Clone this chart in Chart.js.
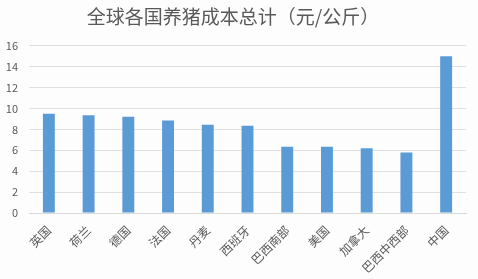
<!DOCTYPE html>
<html>
<head>
<meta charset="utf-8">
<script src="https://cdn.jsdelivr.net/npm/chart.js@4/dist/chart.umd.min.js"></script>
<style>
html,body{margin:0;padding:0;background:#fdfdfd;}
#wrap{width:478px;height:279px;position:relative;}
</style>
</head>
<body>
<div id="wrap"><canvas id="c" width="478" height="279"></canvas></div>
<script>
const categories = ["英国","荷兰","德国","法国","丹麦","西班牙","巴西南部","美国","加拿大","巴西中西部","中国"];
const costValues = [9.5, 9.35, 9.2, 8.85, 8.45, 8.35, 6.35, 6.35, 6.2, 5.8, 15.0];
const yTicks = [0, 2, 4, 6, 8, 10, 12, 14, 16];
const titleText = "全球各国养猪成本总计（元/公斤）";

const FONT = "'Microsoft YaHei','Noto Sans CJK SC','DejaVu Sans',sans-serif";
new Chart(document.getElementById('c'), {
  type: 'bar',
  data: {
    labels: categories,
    datasets: [{
      data: costValues,
      backgroundColor: '#5b9bd5',
      borderWidth: 0,
      barPercentage: 0.6,
      categoryPercentage: 0.5
    }]
  },
  options: {
    responsive: false,
    animation: false,
    devicePixelRatio: 1,
    layout: { padding: { left: 0, right: 12, top: 0, bottom: 0 } },
    plugins: {
      legend: { display: false },
      tooltip: { enabled: false },
      title: {
        display: true,
        text: titleText,
        color: '#595959',
        font: { family: FONT, size: 19, weight: 'normal' },
        padding: { top: 5, bottom: 18 }
      }
    },
    scales: {
      x: {
        afterFit: (axis) => { axis.height = 66; },
        grid: { display: false, drawTicks: false },
        border: { display: true, color: '#d9d9d9', width: 1 },
        ticks: {
          color: '#595959',
          font: { family: FONT, size: 12 },
          maxRotation: 45, minRotation: 45,
          padding: 10, autoSkip: false
        }
      },
      y: {
        min: 0, max: 16,
        afterFit: (axis) => { axis.width = 29; },
        afterBuildTicks: (axis) => { axis.ticks = yTicks.map(v => ({ value: v })); },
        grid: { color: '#e0e0e0', drawTicks: false, lineWidth: 1 },
        border: { display: false },
        ticks: {
          color: '#595959',
          font: { family: FONT, size: 11 },
          padding: 11
        }
      }
    }
  }
});
</script>
</body>
</html>
